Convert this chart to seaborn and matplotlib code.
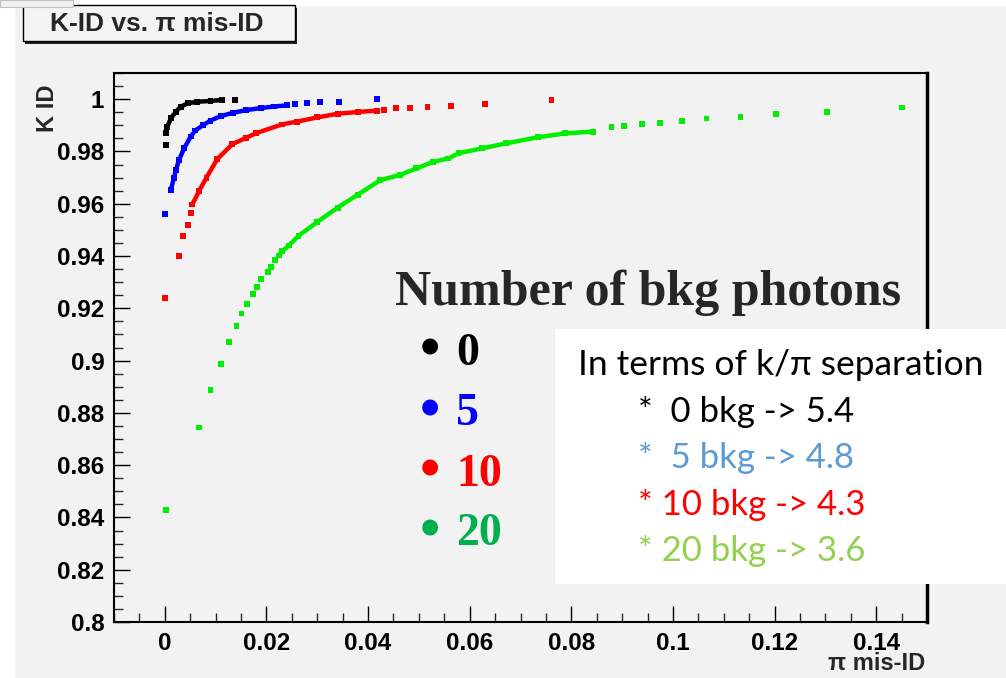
import matplotlib
matplotlib.use("Agg")
import matplotlib.pyplot as plt
import seaborn as sns
import pandas as pd
import numpy as np
from matplotlib.patches import Rectangle

# ---------------- data ----------------
black_x = [0.0002, 0.0002, 0.0005, 0.0012, 0.0022, 0.0031, 0.0045, 0.0064, 0.0090, 0.0113, 0.0139]
black_y = [0.9825, 0.9870, 0.9895, 0.9927, 0.9952, 0.9971, 0.9984, 0.9990, 0.9993, 0.9997, 0.9998]

blue_x = [0.0000, 0.0012, 0.0018, 0.0022, 0.0028, 0.0038, 0.0051, 0.0060, 0.0075, 0.0090, 0.0110,
          0.0135, 0.0160, 0.0190, 0.0215, 0.0240, 0.0257, 0.0280, 0.0306, 0.0342, 0.0417]
blue_y = [0.9562, 0.9654, 0.9700, 0.9730, 0.9768, 0.9812, 0.9857, 0.9880, 0.9900, 0.9918, 0.9935,
          0.9948, 0.9958, 0.9966, 0.9972, 0.9976, 0.9980, 0.9984, 0.9988, 0.9990, 0.9999]

red_x = [0.0000, 0.0028, 0.0035, 0.0046, 0.0051, 0.0054, 0.0067, 0.0082, 0.0103, 0.0133, 0.0160,
         0.0180, 0.0230, 0.0260, 0.0300, 0.0340, 0.0380, 0.0417, 0.0431, 0.0455, 0.0482, 0.0517,
         0.0563, 0.0631, 0.0761]
red_y = [0.9240, 0.9400, 0.9476, 0.9520, 0.9565, 0.9597, 0.9647, 0.9700, 0.9770, 0.9828, 0.9852,
         0.9870, 0.9903, 0.9914, 0.9930, 0.9944, 0.9951, 0.9956, 0.9959, 0.9966, 0.9967, 0.9971,
         0.9975, 0.9980, 0.9997]

green_x = [0.0002, 0.0067, 0.0090, 0.0110, 0.0126, 0.0141, 0.0151, 0.0162, 0.0173, 0.0182, 0.0190,
           0.0203, 0.0209, 0.0216, 0.0224, 0.0231, 0.0244, 0.0263, 0.0300, 0.0340, 0.0380, 0.0424,
           0.0463, 0.0495, 0.0528, 0.0558, 0.0578, 0.0625, 0.0672, 0.0734, 0.0788, 0.0842, 0.0879,
           0.0904, 0.0939, 0.0975, 0.1017, 0.1066, 0.1133, 0.1203, 0.1304, 0.1451]
green_y = [0.8430, 0.8744, 0.8888, 0.8987, 0.9071, 0.9132, 0.9180, 0.9218, 0.9254, 0.9283, 0.9311,
           0.9339, 0.9358, 0.9386, 0.9402, 0.9418, 0.9440, 0.9477, 0.9530, 0.9585, 0.9635, 0.9690,
           0.9710, 0.9735, 0.9760, 0.9773, 0.9793, 0.9812, 0.9831, 0.9854, 0.9869, 0.9876, 0.9895,
           0.9897, 0.9904, 0.9910, 0.9917, 0.9926, 0.9933, 0.9942, 0.9952, 0.9968]

x_ticks = [0.0, 0.02, 0.04, 0.06, 0.08, 0.10, 0.12, 0.14]
x_tick_labels = ["0", "0.02", "0.04", "0.06", "0.08", "0.1", "0.12", "0.14"]
y_ticks = [0.80, 0.82, 0.84, 0.86, 0.88, 0.90, 0.92, 0.94, 0.96, 0.98, 1.00]
y_tick_labels = ["0.8", "0.82", "0.84", "0.86", "0.88", "0.9", "0.92", "0.94", "0.96", "0.98", "1"]

legend_title = "Number of bkg photons"
legend_labels = ["0", "5", "10", "20"]
legend_colors = ["#000000", "#0000ff", "#ff0000", "#00b050"]

box_title = "In terms of k/\u03c0 separation"
box_lines = ["*  0 bkg -> 5.4", "*  5 bkg -> 4.8", "* 10 bkg -> 4.3", "* 20 bkg -> 3.6"]
box_colors = ["#000000", "#5b9bd5", "#ff0000", "#92d050"]

series = [
    ("0", black_x, black_y, "#000000", (1, 10)),
    ("5", blue_x, blue_y, "#0000ff", (1, 16)),
    ("10", red_x, red_y, "#ff0000", (5, 18)),
    ("20", green_x, green_y, "#00ee00", (14, 32)),
]

# ---------------- figure ----------------
sns.set_style("ticks")
plt.rcParams["font.family"] = ["Liberation Sans", "DejaVu Sans"]

W, H = 1006, 678
fig = plt.figure(figsize=(W / 100, H / 100), dpi=100)
fig.patch.set_facecolor("white")


def fx(px):
    return px / W


def fy(py):
    return 1 - py / H


def frect(x0, y0, x1, y1, **kw):
    r = Rectangle((fx(x0), fy(y1)), fx(x1) - fx(x0), fy(y0) - fy(y1),
                  transform=fig.transFigure, **kw)
    fig.add_artist(r)
    return r


# gray canvas
frect(15, 6, W, H, facecolor="#f2f2f2", edgecolor="none", zorder=-10)

ax = fig.add_axes([fx(114), fy(622), fx(927) - fx(114), fy(73) - fy(622)])
ax.set_facecolor("#f2f2f2")

for name, xs, ys, col, (a, b) in series:
    df = pd.DataFrame({"x": xs, "y": ys})
    sns.lineplot(data=df.iloc[a:b], x="x", y="y", sort=False, estimator=None,
                 color=col, lw=3.2, ax=ax)
    sns.scatterplot(data=df, x="x", y="y", marker="s", s=18, color=col,
                    edgecolor="none", linewidth=0, ax=ax)

ax.set_xlim(-0.01, 0.15)
ax.set_ylim(0.8, 1.01)
ax.set_xticks(x_ticks)
ax.set_xticklabels(x_tick_labels)
ax.set_yticks(y_ticks)
ax.set_yticklabels(y_tick_labels)
ax.set_xticks(np.arange(-0.01, 0.1501, 0.005), minor=True)
ax.set_yticks(np.arange(0.8, 1.0101, 0.005), minor=True)
ax.tick_params(which="major", direction="in", length=11.5, width=1.0, labelsize=17.5,
               pad=7, top=False, right=False, colors="black")
ax.tick_params(which="minor", direction="in", length=6.5, width=1.0, top=False, right=False)
for lbl in ax.get_xticklabels() + ax.get_yticklabels():
    lbl.set_fontweight("bold")
ax.set_xlabel("")
ax.set_ylabel("")
for sp in ax.spines.values():
    sp.set_visible(True)
    sp.set_color("black")
    sp.set_linewidth(1.5)
ax.spines["right"].set_linewidth(2.5)

# axis titles
fig.text(fx(925), fy(664), "\u03c0 mis-ID", ha="right", va="center", fontsize=17,
         fontweight="bold")
fig.text(fx(47), fy(84), "K ID", rotation=90, ha="center", va="top", fontsize=17,
         fontweight="bold")

# title box
frect(25, 8, 297, 44, facecolor="#202020", edgecolor="none", zorder=2)
frect(23, 5, 295, 41, facecolor="#f4f4f4", edgecolor="black", linewidth=1.0, zorder=3)
fig.text(fx(157), fy(24), "K-ID vs. \u03c0 mis-ID", ha="center", va="center",
         fontsize=19, fontweight="bold", zorder=4)
frect(0, 0, 73, 7, facecolor="#f0f0f0", edgecolor="#c0c0c0", linewidth=0.8, zorder=5)

# legend (overlay)
fig.text(fx(395), fy(305), legend_title, ha="left", va="baseline", fontsize=36,
         fontweight="bold", family=["Liberation Serif", "DejaVu Serif"], zorder=6)
base = [365, 425, 486, 545]
for lab, col, yb in zip(legend_labels, legend_colors, base):
    fig.text(fx(430), fy(yb + 1), "\u2022", ha="center", va="baseline", fontsize=42,
             fontweight="bold", color=col, family=["Liberation Serif", "DejaVu Serif"], zorder=6)
    fig.text(fx(456), fy(yb), lab, ha="left", va="baseline", fontsize=33,
             fontweight="bold", color=col, family=["Liberation Serif", "DejaVu Serif"], zorder=6)

# white text box
frect(555, 329, W, 584, facecolor="white", edgecolor="none", zorder=7)
fig.text(fx(578), fy(375), box_title, ha="left", va="baseline", fontsize=25.5,
         color="black", family=["Lato", "DejaVu Sans"], zorder=8)
for line, col, yb in zip(box_lines, box_colors, [422, 468, 515, 561]):
    fig.text(fx(638), fy(yb), line, ha="left", va="baseline", fontsize=25,
             color=col, family=["Lato", "DejaVu Sans"], zorder=8)

fig.savefig("out.png", dpi=100, facecolor=fig.get_facecolor())
